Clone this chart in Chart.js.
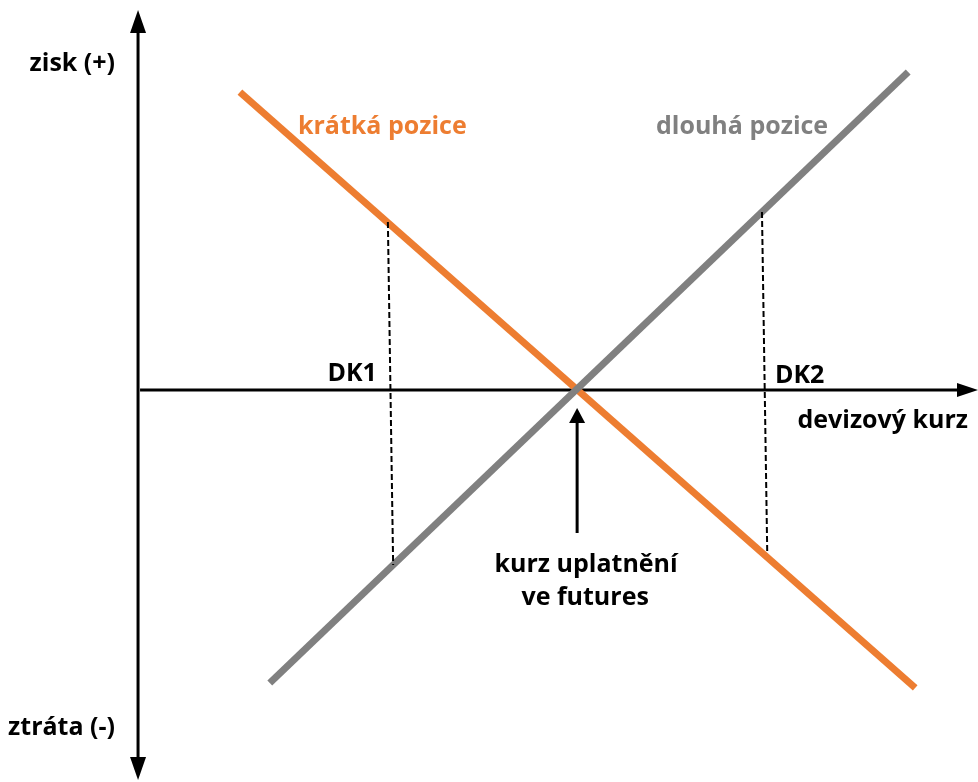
<!DOCTYPE html>
<html>
<head>
<meta charset="utf-8">
<script src="https://cdn.jsdelivr.net/npm/chart.js@4"></script>
<style>
  body { margin: 0; background: #fff; }
  #chart { display: block; }
</style>
</head>
<body>
<canvas id="chart" width="978" height="782"></canvas>
<script>
// Series (exchange rate on x, profit/loss on y, strike rate = 10)
const seriesNames = ['krátká pozice', 'dlouhá pozice'];
const shortX = [2.32, 17.70];
const shortY = [9.93, -9.93];
const longX = [3.0, 17.54];
const longY = [-9.77, 10.6];

// Dashed guides at the two exchange rates
const dkLabels = ['DK1', 'DK2'];
const dk1X = [5.69, 5.81];
const dk1Y = [5.6, -5.83];
const dk2X = [14.21, 14.33];
const dk2Y = [5.93, -5.43];

const strikeRate = 10;
const axisTitles = ['zisk (+)', 'ztráta (-)', 'devizový kurz'];
const strikeLabel = ['kurz uplatnění', 've futures'];

const ORANGE = '#ED7D31';
const GRAY = '#808080';
const FONT = 'bold 25px "Open Sans"';

function pts(xs, ys) {
    return xs.map((x, i) => ({ x: x, y: ys[i] }));
}

function arrowHead(ctx, tipX, tipY, dir, len, half) {
    // dir: 'up' | 'down' | 'right'
    ctx.beginPath();
    ctx.moveTo(tipX, tipY);
    if (dir === 'up') {
        ctx.lineTo(tipX - half, tipY + len);
        ctx.lineTo(tipX + half, tipY + len);
    } else if (dir === 'down') {
        ctx.lineTo(tipX - half, tipY - len);
        ctx.lineTo(tipX + half, tipY - len);
    } else {
        ctx.lineTo(tipX - len, tipY - half);
        ctx.lineTo(tipX - len, tipY + half);
    }
    ctx.closePath();
    ctx.fill();
}

// Axes with arrows, drawn under the lines
const axesPlugin = {
    id: 'axes',
    beforeDatasetsDraw(chart) {
        const ctx = chart.ctx;
        const xs = chart.scales.x, ys = chart.scales.y;
        const ox = xs.getPixelForValue(0);
        const oy = ys.getPixelForValue(0);
        ctx.save();
        ctx.strokeStyle = '#000';
        ctx.fillStyle = '#000';
        ctx.lineWidth = 3;
        // vertical axis
        ctx.beginPath();
        ctx.moveTo(ox, 30);
        ctx.lineTo(ox, 760);
        ctx.stroke();
        arrowHead(ctx, ox, 10, 'up', 23, 8);
        arrowHead(ctx, ox, 780, 'down', 23, 8);
        // horizontal axis
        ctx.beginPath();
        ctx.moveTo(ox + 2, oy);
        ctx.lineTo(960, oy);
        ctx.stroke();
        arrowHead(ctx, 978, oy, 'right', 21, 7);
        ctx.restore();
    }
};

// Texts and the strike arrow, drawn on top
const labelsPlugin = {
    id: 'labels',
    afterDatasetsDraw(chart) {
        const ctx = chart.ctx;
        const xs = chart.scales.x, ys = chart.scales.y;
        const ox = xs.getPixelForValue(0);
        const oy = ys.getPixelForValue(0);
        const sx = xs.getPixelForValue(strikeRate);
        ctx.save();
        ctx.font = FONT;
        ctx.textBaseline = 'alphabetic';

        ctx.fillStyle = '#000';
        ctx.textAlign = 'right';
        ctx.fillText(axisTitles[0], ox - 23, 71);
        ctx.fillText(axisTitles[1], ox - 23, 735);
        ctx.fillText(axisTitles[2], 968, oy + 38);

        ctx.fillText(dkLabels[0], xs.getPixelForValue(dk1X[0]) - 11, oy - 9);
        ctx.textAlign = 'left';
        ctx.fillText(dkLabels[1], xs.getPixelForValue(dk2X[0]) + 13, oy - 7);

        ctx.textAlign = 'center';
        ctx.fillText(strikeLabel[0], sx + 9, oy + 182);
        ctx.fillText(strikeLabel[1], sx + 8, oy + 215);

        ctx.textAlign = 'left';
        ctx.fillStyle = ORANGE;
        ctx.fillText(seriesNames[0], 298, 134);
        ctx.fillStyle = GRAY;
        ctx.fillText(seriesNames[1], 656, 134);

        // strike arrow
        ctx.strokeStyle = '#000';
        ctx.fillStyle = '#000';
        ctx.lineWidth = 3;
        ctx.beginPath();
        ctx.moveTo(sx, oy + 30);
        ctx.lineTo(sx, oy + 143);
        ctx.stroke();
        arrowHead(ctx, sx, oy + 18, 'up', 15, 8);
        ctx.restore();
    }
};

function lineSet(label, data, color, width, dash, order) {
    return {
        label: label,
        data: data,
        showLine: true,
        borderColor: color,
        backgroundColor: color,
        borderWidth: width,
        borderDash: dash,
        pointRadius: 0,
        fill: false,
        clip: false,
        order: order
    };
}

const chart = new Chart(document.getElementById('chart').getContext('2d'), {
    type: 'scatter',
    data: {
        datasets: [
            lineSet(dkLabels[0], pts(dk1X, dk1Y), '#000', 2, [6, 3], 0),
            lineSet(dkLabels[1], pts(dk2X, dk2Y), '#000', 2, [6, 3], 0),
            lineSet(seriesNames[1], pts(longX, longY), GRAY, 7, [], 1),
            lineSet(seriesNames[0], pts(shortX, shortY), ORANGE, 7, [], 2)
        ]
    },
    options: {
        responsive: false,
        animation: false,
        layout: { padding: 0 },
        scales: {
            x: { type: 'linear', display: false, min: -3.144, max: 19.13 },
            y: { type: 'linear', display: false, min: -13.067, max: 13.0 }
        },
        plugins: {
            legend: { display: false },
            tooltip: { enabled: false }
        }
    },
    plugins: [axesPlugin, labelsPlugin]
});
</script>
</body>
</html>
